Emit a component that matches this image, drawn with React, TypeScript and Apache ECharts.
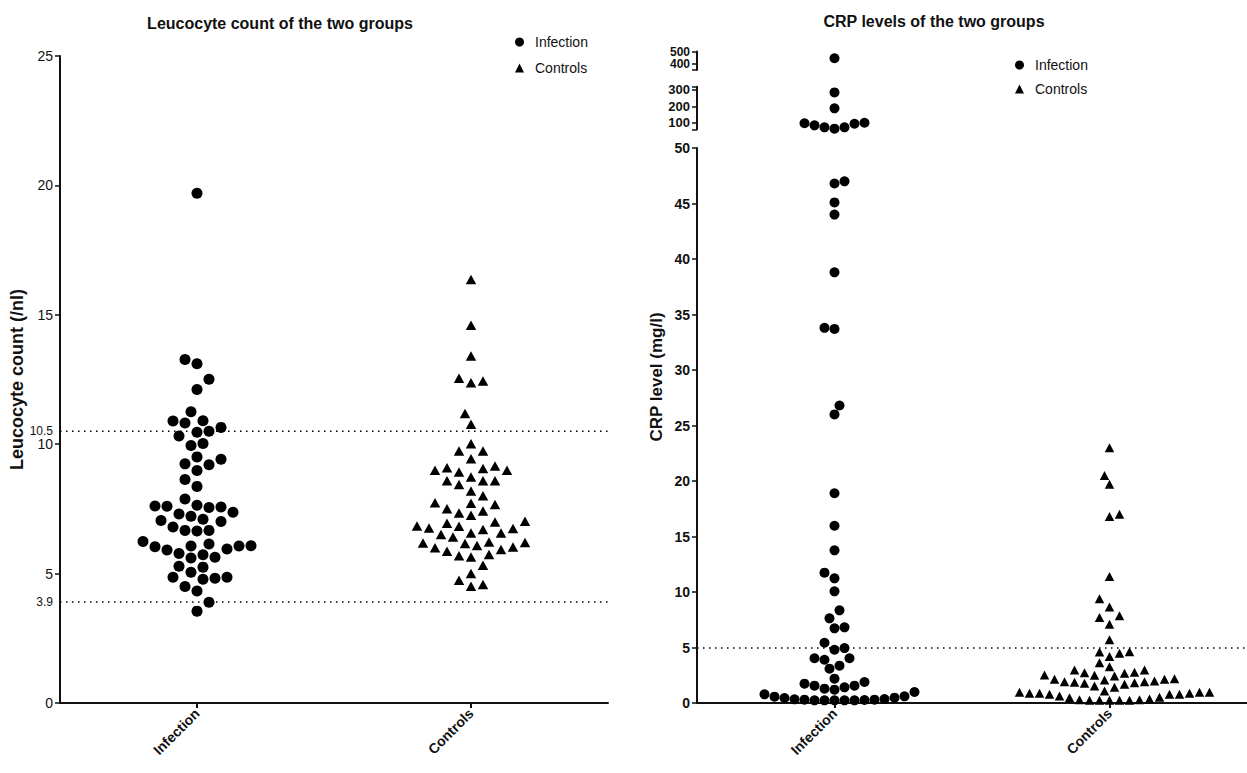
import React, { useEffect, useRef } from "react";
import * as echarts from "echarts";

const FONT = "'Liberation Sans', Arial, Helvetica, sans-serif";
const INK = "#111111";

// ---------- data ----------
const groups = ["Infection", "Controls"];

// Leucocyte count (/nl)
const leucoInfection = [
  19.7, 13.27, 13.11, 12.51, 12.11, 11.25, 10.91, 10.82, 10.9, 10.65, 10.5, 10.46, 10.32, 9.95, 10.03,
  9.51, 9.24, 9.21, 9.42, 8.98, 8.64, 8.37, 7.88, 7.61, 7.57, 7.55, 7.6, 7.64, 7.37, 7.22, 7.3, 7.1,
  7.01, 7.05, 6.8, 6.65, 6.67, 6.67, 6.14, 6.24, 6.07, 6.07, 5.95, 5.91, 6.04, 6.08, 5.78, 5.63, 5.6,
  5.73, 5.28, 5.25, 5.05, 4.82, 4.86, 4.86, 4.78, 4.5, 4.33, 3.89, 3.55,
];
const leucoControls = [
  16.36, 14.6, 13.41, 12.44, 12.37, 12.55, 11.19, 10.77, 10.02, 9.74, 9.74, 9.44, 9.09, 8.99, 8.93,
  8.99, 9.06, 9.16, 8.59, 8.59, 8.73, 8.44, 8.59, 8.19, 8.01, 7.74, 7.67, 7.72, 7.51, 7.34, 7.25, 7.42,
  7.02, 6.95, 6.99, 6.83, 6.74, 6.57, 6.51, 6.41, 6.57, 6.7, 6.76, 6.84, 6.22, 6.18, 6.09, 6.0, 5.86,
  5.93, 6.03, 6.16, 6.2, 5.74, 5.64, 5.69, 5.32, 5.0, 4.74, 4.51, 4.58,
];
const leucoRefLines = [10.5, 3.9];
const leucoTickValues = [0, 5, 10, 15, 20, 25];
const leucoLabelValues = [0, 3.9, 5, 10, 10.5, 15, 20, 25];

// CRP level (mg/l)
const crpInfection = [
  445, 285, 188, 100, 97, 72, 64, 72, 84, 94, 47.0, 46.8, 45.1, 44.0, 38.8, 33.7, 33.8, 26.8, 26.0,
  18.9, 15.97, 13.75, 11.74, 11.23, 10.06, 8.35, 7.63, 6.73, 6.82, 5.43, 4.95, 4.8, 4.03, 3.9, 3.36,
  4.03, 3.09, 1.89, 1.56, 1.56, 1.74, 2.19, 1.41, 1.2, 0.78, 0.57, 0.45, 0.33, 0.27, 0.24, 0.24, 0.24,
  0.24, 0.24, 0.3, 0.3, 0.36, 0.48, 0.6, 0.99, 1.29,
];
const crpControls = [
  23.0, 20.5, 19.7, 16.8, 17.0, 11.4, 9.4, 8.65, 7.7, 7.87, 7.1, 5.7, 4.62, 4.48, 4.2, 4.6, 3.63, 2.97,
  2.73, 2.68, 2.77, 2.97, 3.27, 2.49, 2.19, 2.07, 1.92, 1.98, 1.83, 1.68, 1.08, 1.53, 1.41, 1.77, 1.86,
  1.92, 2.13, 2.13, 2.43, 2.52, 0.96, 0.87, 0.87, 0.78, 0.63, 0.48, 0.3, 0.24, 0.24, 0.24, 0.24, 0.24,
  0.3, 0.36, 0.51, 0.78, 0.78, 0.87, 0.96, 0.96,
];
const crpRefLine = 5;
// broken axis segments (bottom to top)
const crpSegMin = [0, 60, 350];
const crpSegMax = [50, 320, 500];
const crpSegLabels = [
  [0, 5, 10, 15, 20, 25, 30, 35, 40, 45, 50],
  [100, 200, 300],
  [500],
];
const crpSeg3LowerLabels = [400]; // drawn by a companion axis so that it is not hidden by overlap
const crpSegTicks = [
  [0, 5, 10, 15, 20, 25, 30, 35, 40, 45, 50],
  [60, 100, 200, 300, 320],
  [350, 400, 500],
];

// ---------- layout constants ----------
const CENTER = [0.5, 1.5]; // group centres on the hidden value x-axis [0, 2]
const LEUCO_REF_END_X = 2.117; // dotted reference lines run past the plot area

const segOf = (v: number) => (v <= crpSegMax[0] ? 0 : v <= crpSegMax[1] ? 1 : 2);

type Part = { series: number; values: number[]; center: number };
type Group = { d: number; step: number; parts: Part[] };

const crpInfBySeg = [0, 1, 2].map((s) => crpInfection.filter((v) => segOf(v) === s));

const swarmGroups: Group[] = [
  { d: 12, step: 6, parts: [{ series: 0, values: leucoInfection, center: CENTER[0] }] },
  { d: 12, step: 6, parts: [{ series: 1, values: leucoControls, center: CENTER[1] }] },
  {
    d: 10,
    step: 5,
    parts: [
      { series: 4, values: crpInfBySeg[0], center: CENTER[0] },
      { series: 5, values: crpInfBySeg[1], center: CENTER[0] },
      { series: 6, values: crpInfBySeg[2], center: CENTER[0] },
    ],
  },
  { d: 10, step: 5, parts: [{ series: 7, values: crpControls, center: CENTER[1] }] },
];

function swarm(ys: number[], d: number, step: number): number[] {
  const order = ys.map((_, i) => i).sort((a, b) => ys[b] - ys[a]);
  const placed: { x: number; y: number }[] = [];
  const out = new Array(ys.length).fill(0);
  let flip = 1;
  for (const i of order) {
    const y = ys[i];
    const free = (x: number) =>
      placed.every((p) => (p.x - x) * (p.x - x) + (p.y - y) * (p.y - y) >= d * d - 0.01);
    let chosen = 0;
    for (let k = 0; k < 400; k++) {
      const a = k * step * flip;
      if (free(a)) {
        chosen = a;
        break;
      }
      if (k > 0 && free(-a)) {
        chosen = -a;
        break;
      }
    }
    if (chosen !== 0) flip = -flip;
    placed.push({ x: chosen, y });
    out[i] = chosen;
  }
  return out;
}

function buildOption(xs: Record<number, number[]> | null) {
  const pts = (series: number, values: number[], center: number) =>
    values.map((v, i) => [xs && xs[series] ? xs[series][i] : center, v]);

  const axisLine = { show: true, lineStyle: { color: INK, width: 2 } };
  const catAxis = (gridIndex: number) => ({
    type: "category",
    gridIndex,
    data: groups,
    axisLine,
    axisTick: { show: true, alignWithLabel: true, length: 5, lineStyle: { color: INK, width: 2 } },
    axisLabel: {
      rotate: 45,
      margin: 8,
      fontFamily: FONT,
      fontSize: 14,
      fontWeight: "bold",
      color: INK,
    },
    splitLine: { show: false },
  });
  const hiddenX = (gridIndex: number) => ({
    type: "value",
    gridIndex,
    min: 0,
    max: 2,
    show: false,
    splitLine: { show: false },
  });
  const crpLabelStyle = (size: number) => ({
    hideOverlap: false,
    margin: 7,
    fontFamily: FONT,
    fontSize: size,
    lineHeight: size,
    fontWeight: "bold",
    color: INK,
  });
  const crpLabelSize = [14, 13, 12];
  const crpY = (gridIndex: number, s: number) => ({
    type: "value",
    gridIndex,
    position: "left",
    min: crpSegMin[s],
    max: crpSegMax[s],
    axisLine,
    axisTick: {
      show: true,
      length: 5,
      customValues: crpSegTicks[s],
      lineStyle: { color: INK, width: 1.5 },
    },
    axisLabel: { customValues: crpSegLabels[s], ...crpLabelStyle(crpLabelSize[s]) },
    splitLine: { show: false },
  });

  const scatterBase = {
    type: "scatter",
    itemStyle: { color: "#000", opacity: 1 },
    silent: true,
  };

  const legendBase = {
    orient: "vertical",
    itemWidth: 9,
    itemHeight: 9,
    textStyle: { fontFamily: FONT, fontSize: 14, color: INK, padding: [0, 0, 0, 6] },
    data: [
      { name: "Infection", icon: "circle", itemStyle: { opacity: 1 } },
      { name: "Controls", icon: "triangle", itemStyle: { opacity: 1 } },
    ],
  };

  return {
    animation: false,
    backgroundColor: "#ffffff",
    title: [
      {
        text: "Leucocyte count of the two groups",
        left: 275,
        top: 10,
        textAlign: "center",
        textStyle: { fontFamily: FONT, fontSize: 16, fontWeight: "bold", color: INK },
      },
      {
        text: "CRP levels of the two groups",
        left: 929,
        top: 8,
        textAlign: "center",
        textStyle: { fontFamily: FONT, fontSize: 16, fontWeight: "bold", color: INK },
      },
    ],
    legend: [
      { ...legendBase, left: 510, top: 30, itemGap: 12 },
      { ...legendBase, left: 1010, top: 53, itemGap: 10 },
    ],
    grid: [
      { left: 60, top: 56, width: 548, height: 647 },
      { left: 697, top: 148, width: 568, height: 555 },
      { left: 697, top: 86.7, width: 568, height: 42.6 },
      { left: 697, top: 51.5, width: 568, height: 18.5 },
    ],
    xAxis: [catAxis(0), hiddenX(0), catAxis(1), hiddenX(1), hiddenX(2), hiddenX(3)],
    yAxis: [
      {
        type: "value",
        gridIndex: 0,
        min: 0,
        max: 25,
        name: "Leucocyte count (/nl)",
        nameLocation: "middle",
        nameGap: 33,
        nameTextStyle: { fontFamily: FONT, fontSize: 18, fontWeight: "bold", color: INK },
        axisLine,
        axisTick: {
          show: true,
          length: 5,
          customValues: leucoTickValues,
          lineStyle: { color: INK, width: 1.5 },
        },
        axisLabel: {
          customValues: leucoLabelValues,
          hideOverlap: false,
          margin: 7,
          fontFamily: FONT,
          fontSize: 14,
          color: INK,
          formatter: (v: number) => (leucoRefLines.includes(v) ? `{s|${v}}` : `${v}`),
          rich: { s: { fontFamily: FONT, fontSize: 12, color: INK } },
        },
        splitLine: { show: false },
      },
      crpY(1, 0),
      crpY(2, 1),
      crpY(3, 2),
      {
        type: "value",
        gridIndex: 3,
        position: "left",
        offset: 0,
        min: crpSegMin[2],
        max: crpSegMax[2],
        axisLine: { show: false },
        axisTick: { show: false },
        axisLabel: { customValues: crpSeg3LowerLabels, ...crpLabelStyle(crpLabelSize[2]) },
        splitLine: { show: false },
      },
    ],
    graphic: [
      {
        type: "text",
        x: 656,
        y: 377,
        rotation: Math.PI / 2,
        style: {
          text: "CRP level (mg/l)",
          fontFamily: FONT,
          fontSize: 17,
          fontWeight: "bold",
          fill: INK,
          align: "center",
          verticalAlign: "middle",
        },
      },
    ],
    series: [
      {
        ...scatterBase,
        name: "Infection",
        xAxisIndex: 1,
        yAxisIndex: 0,
        symbol: "circle",
        symbolSize: 11,
        data: pts(0, leucoInfection, CENTER[0]),
      },
      {
        ...scatterBase,
        name: "Controls",
        xAxisIndex: 1,
        yAxisIndex: 0,
        symbol: "triangle",
        symbolSize: [10.5, 9.5],
        data: pts(1, leucoControls, CENTER[1]),
      },
      ...leucoRefLines.map((r) => ({
        type: "line",
        name: "ref " + r,
        xAxisIndex: 1,
        yAxisIndex: 0,
        clip: false,
        silent: true,
        symbol: "none",
        z: 1,
        lineStyle: { color: "#000", width: 1.5, type: [1.5, 4.5] },
        data: [
          [0, r],
          [LEUCO_REF_END_X, r],
        ],
      })),
      {
        ...scatterBase,
        name: "Infection",
        xAxisIndex: 3,
        yAxisIndex: 1,
        symbol: "circle",
        symbolSize: 10,
        data: pts(4, crpInfBySeg[0], CENTER[0]),
      },
      {
        ...scatterBase,
        name: "Infection",
        xAxisIndex: 4,
        yAxisIndex: 2,
        symbol: "circle",
        symbolSize: 10,
        clip: false,
        data: pts(5, crpInfBySeg[1], CENTER[0]),
      },
      {
        ...scatterBase,
        name: "Infection",
        xAxisIndex: 5,
        yAxisIndex: 3,
        symbol: "circle",
        symbolSize: 10,
        clip: false,
        data: pts(6, crpInfBySeg[2], CENTER[0]),
      },
      {
        ...scatterBase,
        name: "Controls",
        xAxisIndex: 3,
        yAxisIndex: 1,
        symbol: "triangle",
        symbolSize: [9.5, 9],
        data: pts(7, crpControls, CENTER[1]),
        markLine: {
          silent: true,
          symbol: "none",
          label: { show: false },
          lineStyle: { color: "#000", width: 1.5, type: [1.5, 4.5] },
          data: [{ yAxis: crpRefLine }],
        },
      },
    ],
  };
}

function computeSwarm(chart: echarts.ECharts): Record<number, number[]> {
  const result: Record<number, number[]> = {};
  for (const g of swarmGroups) {
    const ys: number[] = [];
    const owners: { part: Part; i: number; unit: number }[] = [];
    for (const part of g.parts) {
      const p0 = chart.convertToPixel({ seriesIndex: part.series }, [0, 0]) as number[];
      const p1 = chart.convertToPixel({ seriesIndex: part.series }, [1, 0]) as number[];
      const unit = p1[0] - p0[0];
      part.values.forEach((v, i) => {
        const p = chart.convertToPixel({ seriesIndex: part.series }, [part.center, v]) as number[];
        ys.push(p[1]);
        owners.push({ part, i, unit });
      });
    }
    const offs = swarm(ys, g.d, g.step);
    owners.forEach((o, k) => {
      if (!result[o.part.series]) result[o.part.series] = new Array(o.part.values.length).fill(0);
      result[o.part.series][o.i] = o.part.center + offs[k] / o.unit;
    });
  }
  return result;
}

export default function App() {
  const ref = useRef<HTMLDivElement>(null);
  useEffect(() => {
    if (!ref.current) return;
    const chart = echarts.init(ref.current, null, { renderer: "svg" });
    chart.setOption(buildOption(null) as any);
    const xs = computeSwarm(chart);
    chart.setOption(buildOption(xs) as any, true);
    return () => chart.dispose();
  }, []);
  return (
    <div
      ref={ref}
      style={{ position: "absolute", left: 0, top: 0, width: 1247, height: 773, background: "#fff" }}
    />
  );
}
